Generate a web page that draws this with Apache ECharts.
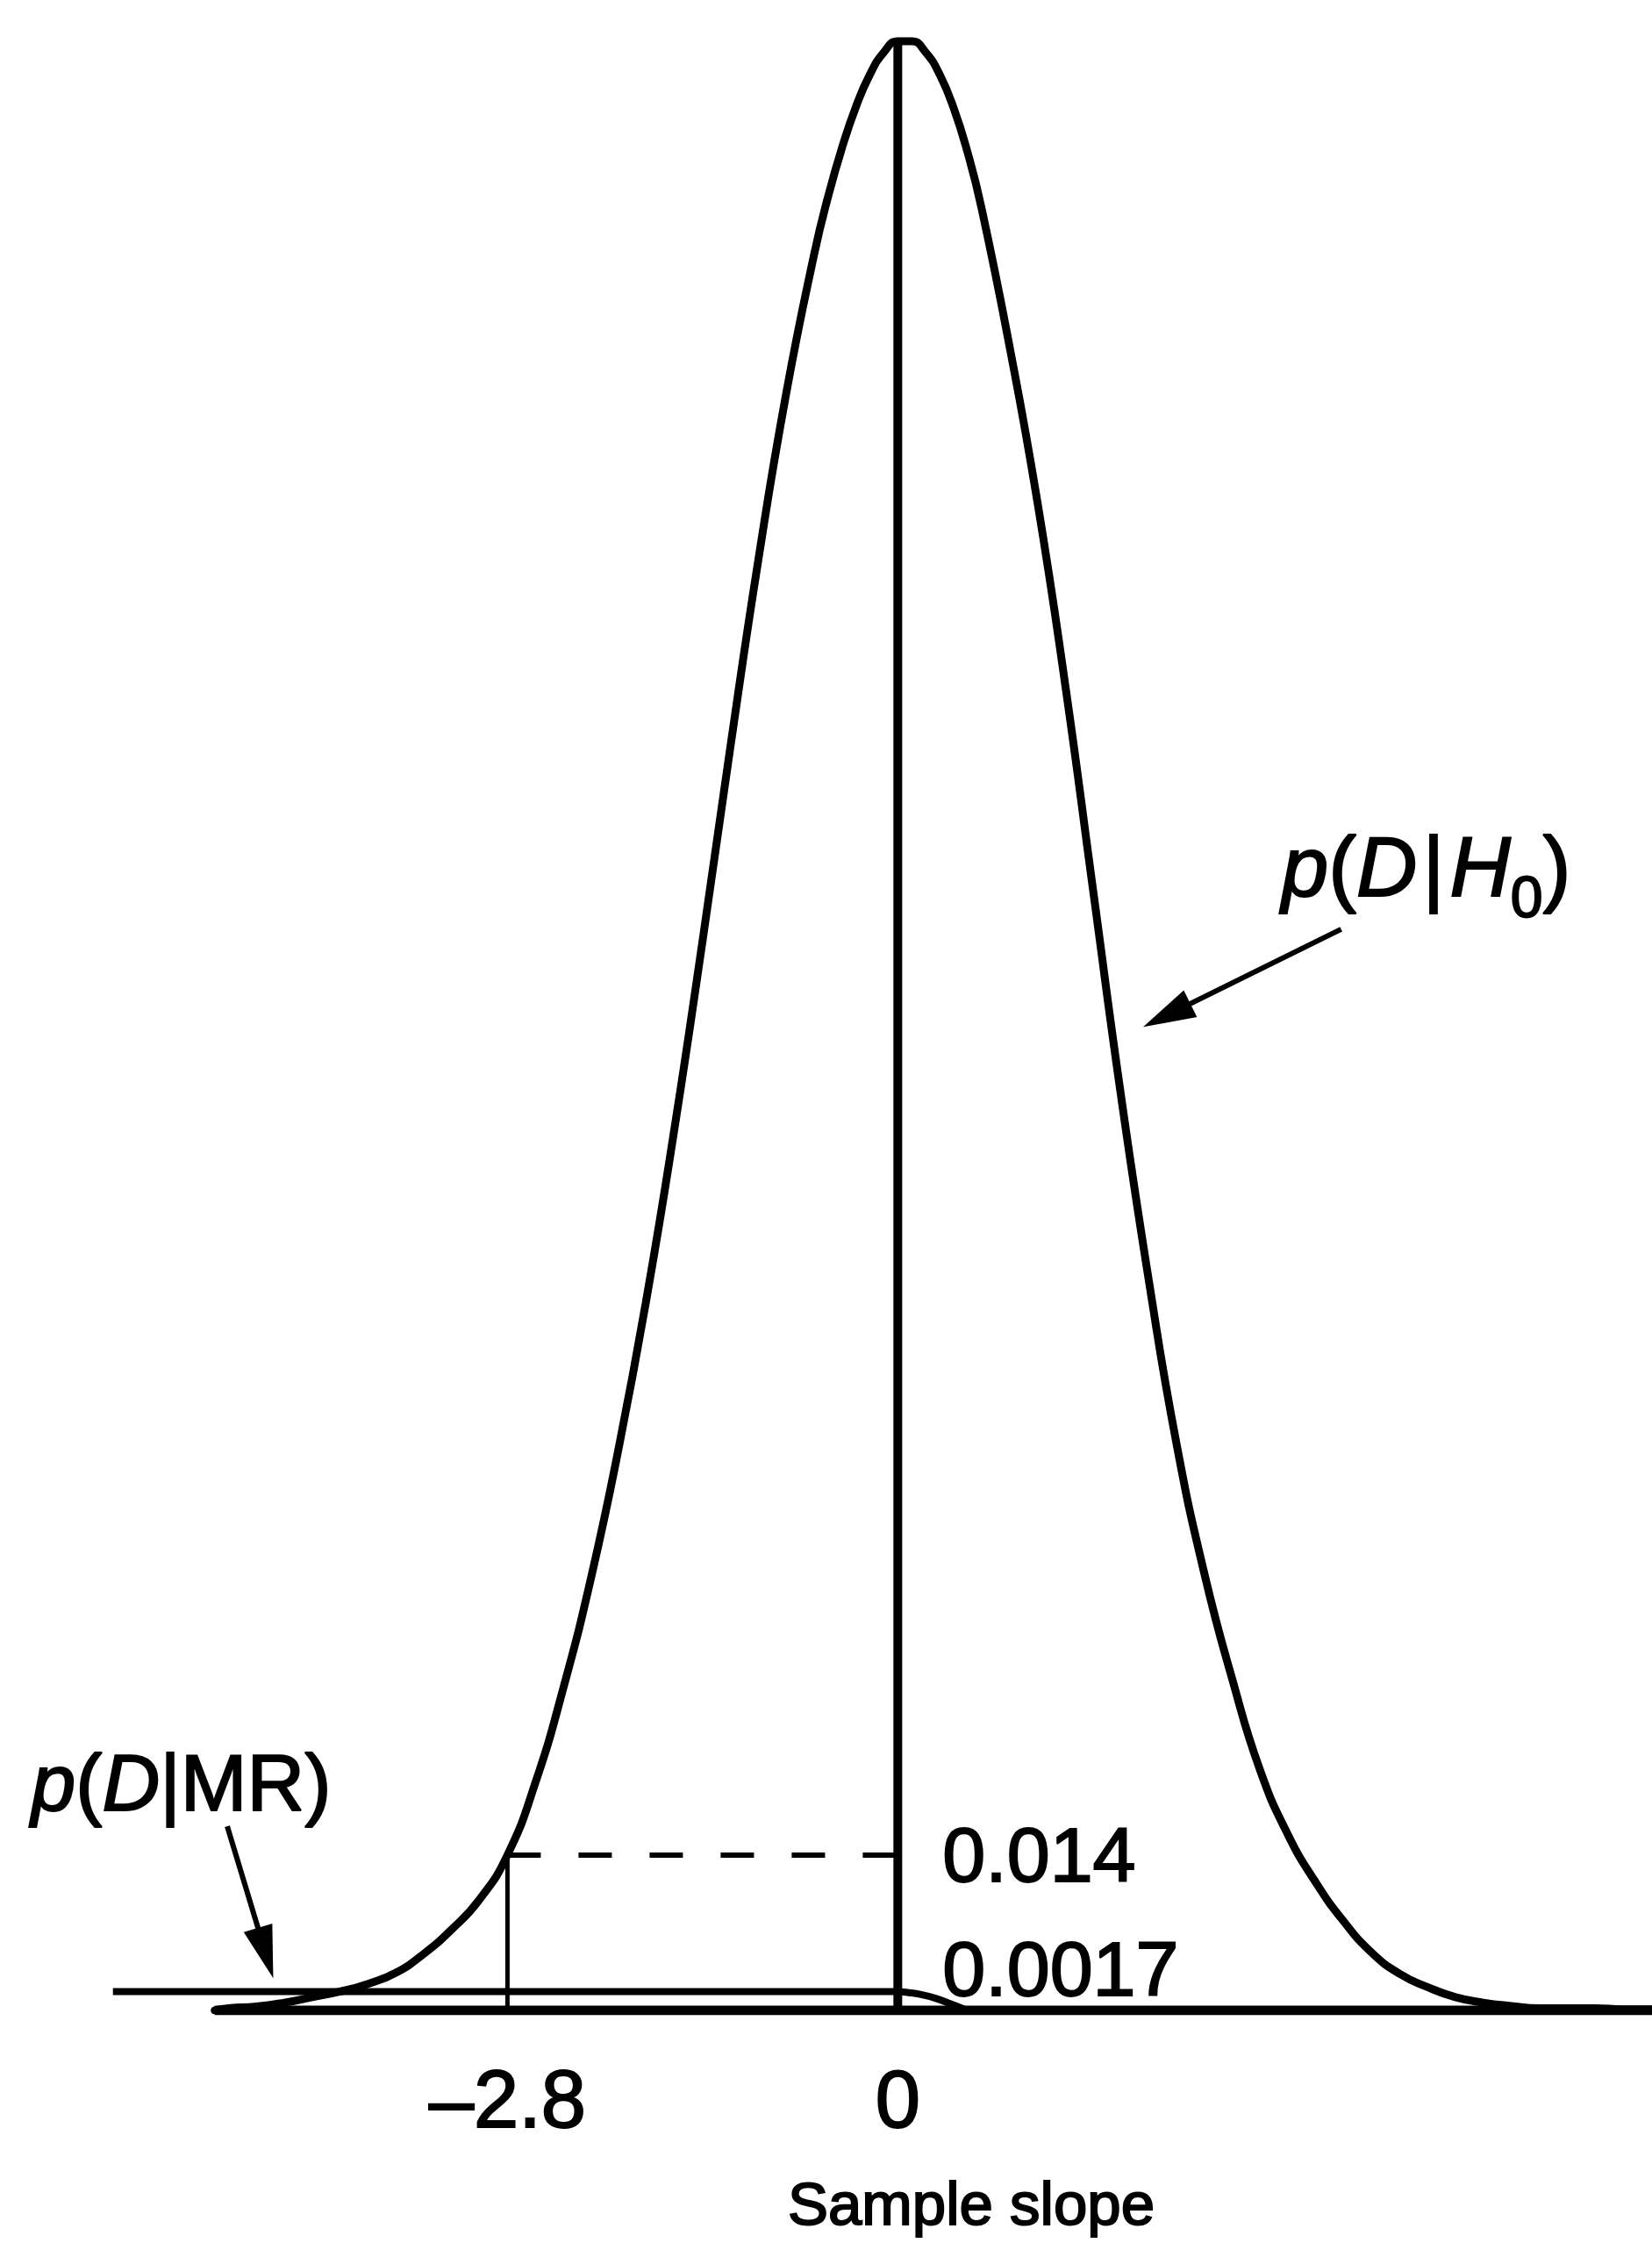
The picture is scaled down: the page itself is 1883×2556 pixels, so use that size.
<!DOCTYPE html>
<html>
<head>
<meta charset="utf-8">
<title>Sample slope – likelihoods</title>
<script src="https://cdn.jsdelivr.net/npm/echarts@6/dist/echarts.min.js"></script>
<style>
  html, body { margin: 0; padding: 0; background: #ffffff; }
  #chart { width: 1883px; height: 2556px; }
</style>
</head>
<body>
<div id="chart"></div>
<script>
// Sampling distribution of the slope under H0 (x = sample slope, y = density)
const slopeH0 = [
  -4.9, -4.8, -4.6, -4.4, -4.2, -4.0, -3.8, -3.6, -3.4, -3.2,
  -3.0, -2.8, -2.6, -2.4, -2.2, -2.0, -1.8, -1.6, -1.4, -1.2,
  -1.0, -0.8, -0.6, -0.5, -0.4, -0.3, -0.2, -0.1, 0, 0.1,
  0.2, 0.3, 0.4, 0.5, 0.6, 0.8,
  1.0, 1.2, 1.4, 1.6, 1.8, 2.0, 2.2, 2.4, 2.6, 2.8,
  3.0, 3.2, 3.4, 3.6, 3.8, 4.0, 4.2, 4.4, 4.6, 4.8,
  5.0, 5.2, 5.41
];
const densityH0 = [
  0, 0.0002, 0.00035, 0.0007, 0.0012, 0.0017, 0.0024, 0.0034, 0.0051, 0.0073,
  0.0100, 0.0140, 0.0205, 0.0290, 0.0390, 0.0508, 0.0643, 0.0796, 0.0964, 0.1139,
  0.1307, 0.1457, 0.1582, 0.1634, 0.1678, 0.1715, 0.1744, 0.1764, 0.1774, 0.1774,
  0.1764, 0.1744, 0.1714, 0.1674, 0.1624, 0.1500,
  0.1360, 0.1195, 0.1010, 0.0825, 0.0658, 0.0510, 0.0393, 0.0298, 0.0216, 0.0158,
  0.0115, 0.0080, 0.0052, 0.0033, 0.0021, 0.0012, 0.0007, 0.0004, 0.0002, 0.0002,
  0.0002, 0.0001, 0.0001
];

// Distribution under the alternative (MR): nearly flat, falling off just above zero
const slopeMR = [-5.63, 0, 0.08, 0.16, 0.27, 0.40, 0.50];
const densityMR = [0.0017, 0.0017, 0.0016, 0.00145, 0.0011, 0.0005, 0];

// Observed slope and the density of each hypothesis at that slope
const observedSlope = -2.8;
const likelihoodH0 = 0.014;
const likelihoodMR = 0.0017;

// Extent of the horizontal axis rule
const axisSpan = [-4.90, 5.41];

// Tick labels on the slope axis
const tickValues = [-2.8, 0];

const FONT = '"Liberation Sans", Arial, Helvetica, sans-serif';
const INK = '#000000';

const toPairs = (xs, ys) => xs.map((x, i) => [x, ys[i]]);
// Height of H0 where the slope is zero
const densityAtZero = densityH0[slopeH0.indexOf(0)];

// Annotation placement, in data units
const arrowH0 = [3.18, 0.0974, 1.76, 0.0886];
const arrowMR = [-4.81, 0.0166, -4.48, 0.0029];
const labelH0At = [3.79, 0.1025];
const labelMRAt = [-5.14, 0.0200];

// Slightly heavier glyphs, like printed type
const inkText = { color: INK, textBorderColor: INK, textBorderWidth: 2, opacity: 1 };

const richH0 = {
  i: Object.assign({ fontFamily: FONT, fontSize: 96, fontStyle: 'italic', lineHeight: 130, verticalAlign: 'middle' }, inkText),
  n: Object.assign({ fontFamily: FONT, fontSize: 96, lineHeight: 130, verticalAlign: 'middle' }, inkText),
  b: Object.assign({ fontFamily: FONT, fontSize: 96, lineHeight: 130, verticalAlign: 'middle', padding: [0, 6, 0, 6] }, inkText),
  s: Object.assign({ fontFamily: FONT, fontSize: 66, lineHeight: 130, verticalAlign: 'bottom' }, inkText)
};
const richMR = {
  i: Object.assign({ fontFamily: FONT, fontSize: 91, fontStyle: 'italic', lineHeight: 120, verticalAlign: 'middle' }, inkText),
  n: Object.assign({ fontFamily: FONT, fontSize: 91, lineHeight: 120, verticalAlign: 'middle' }, inkText)
};

const chart = echarts.init(document.getElementById('chart'), null, { renderer: 'canvas' });

const fmtTick = v => String(v).replace('-', '\u2013');

const option = {
  backgroundColor: '#ffffff',
  animation: false,
  grid: { left: 0, right: 0, top: 14, bottom: 253, containLabel: false },
  xAxis: {
    type: 'value',
    min: -6.44,
    max: 5.41,
    axisLine: { show: false },
    axisTick: { show: false },
    splitLine: { show: false },
    axisLabel: Object.assign({
      customValues: tickValues,
      formatter: fmtTick,
      fontFamily: FONT,
      fontSize: 92,
      margin: 62
    }, inkText),
    name: 'Sample slope',
    nameLocation: 'middle',
    nameGap: 190,
    nameTextStyle: Object.assign({
      fontFamily: FONT,
      fontSize: 69,
      padding: [0, 0, 0, 331]
    }, inkText)
  },
  yAxis: {
    type: 'value',
    min: 0,
    max: 0.18,
    show: false
  },
  series: [
    {
      name: 'axis rule',
      type: 'line',
      data: axisSpan.map(x => [x, 0]),
      symbol: 'none',
      lineStyle: { color: INK, width: 11 },
      silent: true,
      z: 2
    },
    {
      name: 'p(D|H0)',
      type: 'line',
      data: toPairs(slopeH0, densityH0),
      symbol: 'none',
      smooth: 0.5,
      lineStyle: { color: INK, width: 9, join: 'round', cap: 'round' },
      z: 3
    },
    {
      name: 'p(D|MR)',
      type: 'line',
      data: toPairs(slopeMR, densityMR),
      symbol: 'none',
      smooth: 0.4,
      lineStyle: { color: INK, width: 8 },
      z: 3
    },
    {
      name: 'zero slope',
      type: 'line',
      data: [[0, 0], [0, densityAtZero]],
      symbol: 'none',
      lineStyle: { color: INK, width: 10 },
      z: 4
    },
    {
      name: 'observed slope',
      type: 'line',
      data: [[observedSlope, 0], [observedSlope, likelihoodH0]],
      symbol: 'none',
      lineStyle: { color: INK, width: 5 },
      z: 4
    },
    {
      name: 'H0 likelihood',
      type: 'line',
      data: [[observedSlope, likelihoodH0], [0, likelihoodH0]],
      symbol: 'none',
      lineStyle: { color: INK, width: 6, type: [38, 43], dashOffset: 0 },
      z: 4
    },
    {
      name: 'likelihood values',
      type: 'scatter',
      symbolSize: 0,
      silent: true,
      itemStyle: { opacity: 1 },
      data: [
        { value: [0, likelihoodH0], label: { offset: [0, 6] } },
        { value: [0, likelihoodMR], label: { offset: [0, -20] } }
      ],
      label: Object.assign({
        show: true,
        position: 'right',
        distance: 51,
        formatter: p => String(p.value[1]),
        fontFamily: FONT,
        fontSize: 88
      }, inkText),
      z: 5
    },
    {
      name: 'arrows',
      type: 'custom',
      silent: true,
      data: [arrowH0, arrowMR],
      renderItem: (params, api) => {
        const p1 = api.coord([api.value(0), api.value(1)]);
        const p2 = api.coord([api.value(2), api.value(3)]);
        const dx = p2[0] - p1[0], dy = p2[1] - p1[1];
        const len = Math.hypot(dx, dy);
        const ux = dx / len, uy = dy / len;
        const headLen = 60, headHalf = 17;
        const bx = p2[0] - ux * headLen, by = p2[1] - uy * headLen;
        const nx = -uy, ny = ux;
        return {
          type: 'group',
          children: [
            {
              type: 'line',
              shape: { x1: p1[0], y1: p1[1], x2: bx + ux * 6, y2: by + uy * 6 },
              style: { stroke: INK, lineWidth: 6 }
            },
            {
              type: 'polygon',
              shape: { points: [[p2[0], p2[1]], [bx + nx * headHalf, by + ny * headHalf], [bx - nx * headHalf, by - ny * headHalf]] },
              style: { fill: INK }
            }
          ]
        };
      },
      z: 5
    },
    {
      name: 'curve labels',
      type: 'scatter',
      symbolSize: 0,
      silent: true,
      itemStyle: { opacity: 1 },
      data: [
        { value: labelH0At, label: { formatter: '{i|p}{n|(}{i|D}{b||}{i|H}{s|0}{n|)}', rich: richH0 } },
        { value: labelMRAt, label: { formatter: '{i|p}{n|(}{i|D}{n||MR)}', rich: richMR } }
      ],
      label: {
        show: true,
        position: 'inside',
        align: 'center',
        verticalAlign: 'middle',
        color: INK
      },
      z: 5
    }
  ]
};

chart.setOption(option);
</script>
</body>
</html>
